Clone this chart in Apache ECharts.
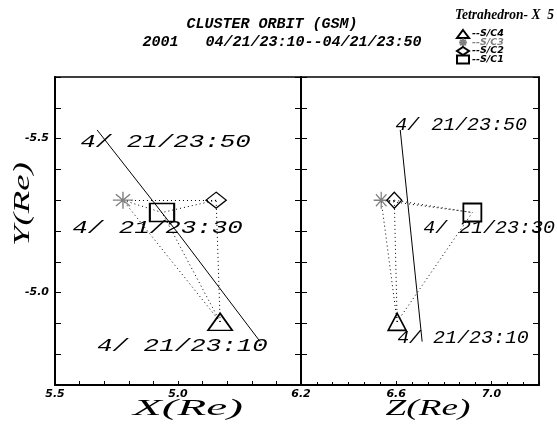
<!DOCTYPE html>
<html>
<head>
<meta charset="utf-8">
<script src="https://cdn.jsdelivr.net/npm/echarts@6/dist/echarts.min.js"></script>
<style>
  html, body { margin: 0; padding: 0; background: #fff; }
  #main { width: 557px; height: 427px; }
</style>
</head>
<body>
<div id="main"></div>
<script>
// ---- data ----
const times = ['23:10', '23:30', '23:50'];
const orbitDate = '4/ 21/';
const orbitX = [6.067, 5.807, 5.537];
const orbitY = [-4.841, -5.184, -5.528];
const orbitZ = [6.709, 6.663, 6.617];

const craftNames = ['S/C4', 'S/C3', 'S/C2', 'S/C1'];
const craftX = [5.937, 5.621, 5.924, 5.748];
const craftY = [-4.905, -5.30, -5.30, -5.26];
const craftZ = [6.604, 6.537, 6.592, 6.920];
// tetrahedron edges (index pairs into craft arrays)
const edges = [[0, 1], [0, 2], [0, 3], [1, 2], [1, 3], [2, 3]];

const xTickValues = [5.4, 5.8, 6.2];
const xTickLabels = ['5.5', '5.0', '6.2'];
const zTickValues = [6.6, 7.0];
const zTickLabels = ['6.6', '7.0'];
const yTickValues = [-5.5, -5.0];
const yTickLabels = ['-5.5', '-5.0'];

const titleLine1 = 'CLUSTER ORBIT (GSM)';
const titleLine2 = '2001   04/21/23:10--04/21/23:50';
const legendTitle = 'Tetrahedron- X  5';

// ---- styles ----
const asterisk = 'path://M10,0L10,20M0,10L20,10M3,3L17,17M3,17L17,3';
const craftSymbols = ['triangle', asterisk, 'diamond', 'rect'];
const craftColors = ['#000', '#808080', '#000', '#000'];
const craftBorder = [1.6, 1.3, 1.3, 1.8];
const craftSize = [[18, 17], [15, 17], [15, 16], [18, 18]];

// left panel is stretched horizontally (X scale) compared to the right one
const panels = [
  { h: craftX, orbit: orbitX, stretch: 1.35, textScale: 1.36 },
  { h: craftZ, orbit: orbitZ, stretch: 1.0, textScale: 1.05 }
];
// where each time label sits relative to its orbit point (px)
const labelOffsets = [
  [[-163, 4], [-108, -8], [-17, 12]],
  [[-25, -4], [12, -8], [-5, -5]]
];

function pickLabel(values, labels) {
  return function (v) {
    for (let i = 0; i < values.length; i++) {
      if (Math.abs(v - values[i]) < 1e-6) return labels[i];
    }
    return '';
  };
}

const tickFont = { color: '#000', fontSize: 11, fontWeight: 'bold', fontStyle: 'italic', fontFamily: 'DejaVu Sans' };

function yAxisFor(grid, pos, labels) {
  return {
    type: 'value', gridIndex: grid, position: pos, inverse: true,
    min: -5.7, max: -4.7, interval: 0.1,
    axisLine: { show: true, lineStyle: { color: '#000', width: pos === 'left' && grid === 0 ? 2 : 1.5 } },
    axisTick: { show: true, inside: true, length: 6, lineStyle: { color: '#000' } },
    axisLabel: labels ? Object.assign({ margin: 6, formatter: pickLabel(yTickValues, yTickLabels) }, tickFont) : { show: false },
    splitLine: { show: false }
  };
}

let myChart = echarts.init(document.getElementById('main'));

let series = [];
let orbitSeriesIndex = [];
panels.forEach(function (p, pi) {
  // dotted tetrahedron edges
  series.push({
    type: 'lines', coordinateSystem: 'cartesian2d', xAxisIndex: pi, yAxisIndex: pi * 2,
    silent: true, z: 2,
    lineStyle: { color: '#000', width: 1, type: [1, 3], opacity: 1 },
    data: edges.map(function (e) {
      return { coords: [[p.h[e[0]], craftY[e[0]]], [p.h[e[1]], craftY[e[1]]]] };
    })
  });
  // orbit track
  orbitSeriesIndex.push(series.length);
  series.push({
    type: 'line', xAxisIndex: pi, yAxisIndex: pi * 2, showSymbol: false, silent: true, z: 3,
    lineStyle: { color: '#000', width: 1 },
    data: times.map(function (t, i) { return [p.orbit[i], orbitY[i]]; })
  });
  // spacecraft markers
  craftNames.forEach(function (name, i) {
    series.push({
      name: name, type: 'scatter', xAxisIndex: pi, yAxisIndex: pi * 2, z: 4,
      symbol: craftSymbols[i],
      symbolSize: [craftSize[i][0] * p.stretch, craftSize[i][1]],
      itemStyle: { color: 'transparent', borderColor: craftColors[i], borderWidth: craftBorder[i], opacity: 1 },
      data: [[p.h[i], craftY[i]]]
    });
  });
});

let option = {
  animation: false,
  backgroundColor: '#fff',
  grid: [
    { left: 55, top: 77, width: 246, height: 308, outerBoundsMode: 'none', show: true, borderColor: '#000', borderWidth: 1.5 },
    { left: 301, top: 77, width: 238, height: 308, outerBoundsMode: 'none', show: true, borderColor: '#000', borderWidth: 1.5 }
  ],
  legend: {
    orient: 'vertical', left: 451, top: 24,
    itemWidth: 12, itemHeight: 8, itemGap: -1.5,
    selectedMode: false,
    formatter: '--{name}',
    textStyle: { fontSize: 9.5, lineHeight: 9, fontWeight: 'bold', fontStyle: 'italic', fontFamily: 'DejaVu Sans', color: '#000', padding: [0, 0, 0, -2] },
    data: craftNames.map(function (n, i) {
      return { name: n, textStyle: { color: craftColors[i] } };
    })
  },
  xAxis: [
    {
      type: 'value', gridIndex: 0, min: 5.4, max: 6.2, interval: 0.4,
      axisLine: { show: true, lineStyle: { color: '#000', width: 2 } },
      axisTick: { show: true, inside: true, length: 4, lineStyle: { color: '#000' } },
      minorTick: { show: true, splitNumber: 5, length: 4, lineStyle: { color: '#000' } },
      axisLabel: Object.assign({ margin: 4, formatter: pickLabel(xTickValues, xTickLabels) }, tickFont),
      splitLine: { show: false }
    },
    {
      type: 'value', gridIndex: 1, min: 6.2, max: 7.2, interval: 0.4,
      axisLine: { show: true, lineStyle: { color: '#000', width: 2 } },
      axisTick: { show: true, inside: true, length: 4, lineStyle: { color: '#000' } },
      minorTick: { show: true, splitNumber: 6, length: 3, lineStyle: { color: '#000' } },
      axisLabel: Object.assign({ margin: 4, formatter: pickLabel(zTickValues, zTickLabels) }, tickFont),
      splitLine: { show: false }
    }
  ],
  yAxis: [
    yAxisFor(0, 'left', true),
    yAxisFor(0, 'right', false),
    yAxisFor(1, 'left', false),
    yAxisFor(1, 'right', false)
  ],
  series: series
};

myChart.setOption(option);

// ---- text: titles, axis names, and time labels placed from the orbit points ----
const nameFontCss = 'italic 23px "Liberation Serif"';
let graphics = [
  { type: 'text', x: 272, y: 24, style: { text: titleLine1, font: 'italic bold 15px "Liberation Mono"', fill: '#000', align: 'center', verticalAlign: 'middle' } },
  { type: 'text', x: 282, y: 42, style: { text: titleLine2, font: 'italic bold 15px "Liberation Mono"', fill: '#000', align: 'center', verticalAlign: 'middle' } },
  { type: 'text', x: 455, y: 15, scaleX: 0.9, style: { text: legendTitle, font: 'italic bold 15px "Liberation Serif"', fill: '#000', align: 'left', verticalAlign: 'middle' } },
  { type: 'text', x: 188, y: 409, scaleX: 2.05, style: { text: 'X(Re)', font: nameFontCss, fill: '#000', align: 'center', verticalAlign: 'middle' } },
  { type: 'text', x: 428, y: 409, scaleX: 1.62, style: { text: 'Z(Re)', font: nameFontCss, fill: '#000', align: 'center', verticalAlign: 'middle' } },
  { type: 'text', x: 23, y: 204, rotation: Math.PI / 2, scaleX: 1.6, style: { text: 'Y(Re)', font: nameFontCss, fill: '#000', align: 'center', verticalAlign: 'middle' } }
];
panels.forEach(function (p, pi) {
  times.forEach(function (t, ti) {
    let pt = myChart.convertToPixel({ seriesIndex: orbitSeriesIndex[pi] }, [p.orbit[ti], orbitY[ti]]);
    let off = labelOffsets[pi][ti];
    graphics.push({
      type: 'text', x: pt[0] + off[0], y: pt[1] + off[1], scaleX: p.textScale, z: 10,
      style: { text: orbitDate + t, font: 'italic 19px "Liberation Mono"', fill: '#000', align: 'left', verticalAlign: 'middle' }
    });
  });
});
myChart.setOption({ graphic: graphics });
</script>
</body>
</html>
